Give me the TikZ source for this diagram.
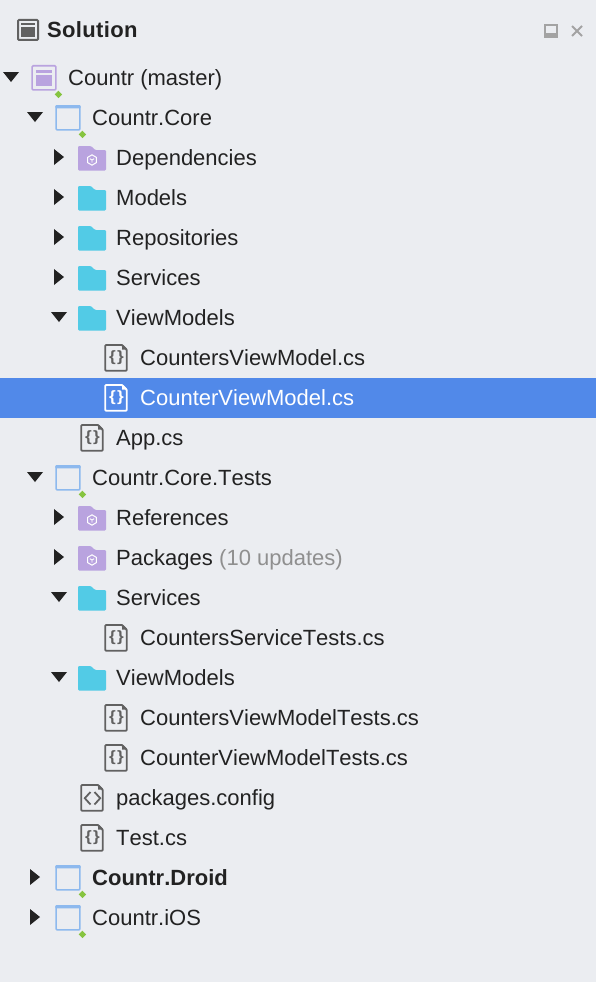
\documentclass[tikz,border=0pt]{standalone}
\usepackage{fontspec}
\setmainfont[Kerning=Off]{Liberation Sans}
\usetikzlibrary{shapes.geometric}
\definecolor{padBack}{HTML}{EBEDF1}
\definecolor{padSelect}{HTML}{5189E9}
\definecolor{padInk}{HTML}{222222}
\definecolor{padGray}{HTML}{8F8F8F}
\definecolor{padCtrl}{HTML}{A3A3A3}
\definecolor{padPurple}{HTML}{B9A3DF}
\definecolor{padCyan}{HTML}{52CBE6}
\definecolor{padBlue}{HTML}{8DB9EE}
\definecolor{padGreen}{HTML}{86C440}
\colorlet{fileInk}{black!62}

\tikzset{
  downtip/.pic={\fill[padInk] (-8,-5) -- (8,-5) -- (0,5) -- cycle;},
  righttip/.pic={\fill[padInk] (-5,-8) -- (5,0) -- (-5,8) -- cycle;},
  notip/.pic={},
  badge/.pic={\fill[padGreen] (0,-3.7) -- (3.7,0) -- (0,3.7) -- (-3.7,0) -- cycle;},
  slnbox/.pic={
    \draw[padPurple,line width=1.6pt,rounded corners=1pt] (-11.9,-11.2) rectangle (11.9,12.9);
    \fill[padPurple] (-8.3,-7) rectangle (8.3,-4.3);
    \fill[padPurple] (-8.3,-2) rectangle (8.3,9);
    \pic at (14.4,17.4) {badge};},
  probox/.pic={
    \draw[padBlue,line width=1.6pt,rounded corners=1pt] (-11.9,-11.2) rectangle (11.9,12.9);
    \fill[padBlue,rounded corners=1pt] (-12.7,-12) rectangle (12.7,-8.7);
    \pic at (14.4,17.4) {badge};},
  plainfolder/.pic={
    \fill[padCyan,rounded corners=1.2pt] (-14,-11) -- (-1,-11) -- (3,-7) -- (14,-7)
      -- (14,13.5) -- (-14,13.5) -- cycle;},
  pkgfolder/.pic={
    \fill[padPurple,rounded corners=1.2pt] (-14,-11) -- (-1,-11) -- (3,-7) -- (14,-7)
      -- (14,13.5) -- (-14,13.5) -- cycle;
    \draw[white,line width=1pt] (0,-2.2) -- (4.4,.4) -- (4.4,5.6) -- (0,8.2) -- (-4.4,5.6) -- (-4.4,.4) -- cycle;
    \draw[white,line width=.9pt] (-2.2,1.7) -- (0,3) -- (2.2,1.7) (0,3) -- (0,5.5);},
  bracefile/.pic={
    \draw[fileInk,line width=1.8pt,rounded corners=1pt] (-10.8,-12.1) -- (6,-12.1) -- (10.8,-7.3)
      -- (10.8,13.8) -- (-10.8,13.8) -- cycle;
    \fill[fileInk] (6,-13) -- (11.7,-7.3) -- (6,-7.3) -- cycle;
    \node[font=\fontsize{15}{15}\selectfont\bfseries,text=fileInk,inner sep=0pt] (brc) at (.5,1) {\scalebox{1.15}[1]{\{\kern1pt\}}};},
  tagfile/.pic={
    \draw[fileInk,line width=1.8pt,rounded corners=1pt] (-10.8,-12.1) -- (6,-12.1) -- (10.8,-7.3)
      -- (10.8,13.8) -- (-10.8,13.8) -- cycle;
    \fill[fileInk] (6,-13) -- (11.7,-7.3) -- (6,-7.3) -- cycle;
    \draw[fileInk,line width=1.8pt] (-1.5,-5) -- (-7.2,1.2) -- (-1.5,7.5) (2.5,-5) -- (8.2,1.2) -- (2.5,7.5);},
  selfile/.pic={\colorlet{fileInk}{white}\pic {bracefile};}
}

\begin{document}
\begin{tikzpicture}[x=1pt,y=-1pt,
    rowtext/.style={anchor=base west,inner sep=0pt,font=\fontsize{22}{26}\selectfont,text=padInk},
    selrow/.style={rowtext,text=white},
    boldrow/.style={rowtext,font=\fontsize{22}{26}\selectfont\bfseries}]
  \useasboundingbox (0,0) rectangle (596,982);
  \fill[padBack] (0,0) rectangle (596,982);
  \fill[padSelect] (0,378) rectangle (596,418);

  % header
  \draw[black!62,line width=2pt,rounded corners=1pt] (18,20) rectangle (38,40);
  \fill[black!62] (21,23) rectangle (35,25);
  \fill[black!62] (21,27.5) rectangle (35,37);
  \node[anchor=base west,inner sep=0pt,font=\fontsize{22}{26}\selectfont\bfseries\addfontfeature{LetterSpace=1.5},text=padInk] (title) at (47,37.5) {Solution};
  \draw[padCtrl,line width=1.6pt] (545,25) rectangle (557,37);
  \fill[padCtrl] (545,33) rectangle (557,37);
  \draw[padCtrl,line width=1.8pt] (572,26) -- (582,36) (572,36) -- (582,26);

  % tree rows
  \foreach \lvl/\tip/\icon/\sty/\txt [count=\i from 0] in {
      0/downtip/slnbox/rowtext/Countr (master),
      1/downtip/probox/rowtext/Countr.Core,
      2/righttip/pkgfolder/rowtext/Dependencies,
      2/righttip/plainfolder/rowtext/Models,
      2/righttip/plainfolder/rowtext/Repositories,
      2/righttip/plainfolder/rowtext/Services,
      2/downtip/plainfolder/rowtext/ViewModels,
      3/notip/bracefile/rowtext/CountersViewModel.cs,
      3/notip/selfile/selrow/CounterViewModel.cs,
      2/notip/bracefile/rowtext/App.cs,
      1/downtip/probox/rowtext/Countr.Core.Tests,
      2/righttip/pkgfolder/rowtext/References,
      2/righttip/pkgfolder/rowtext/Packages,
      2/downtip/plainfolder/rowtext/Services,
      3/notip/bracefile/rowtext/CountersServiceTests.cs,
      2/downtip/plainfolder/rowtext/ViewModels,
      3/notip/bracefile/rowtext/CountersViewModelTests.cs,
      3/notip/bracefile/rowtext/CounterViewModelTests.cs,
      2/notip/tagfile/rowtext/packages.config,
      2/notip/bracefile/rowtext/Test.cs,
      1/righttip/probox/boldrow/Countr.Droid,
      1/righttip/probox/rowtext/Countr.iOS} {
    \pgfmathsetmacro{\rowy}{77+40*\i}
    \pic at ({11+24*\lvl},\rowy) {\tip};
    \pic at ({44+24*\lvl},\rowy) {\icon};
    \node[\sty] (row\i) at ({68+24*\lvl},\rowy+8) {\txt};
  }
  \node[rowtext,text=padGray,anchor=base west] (updates) at ([xshift=6pt]row12.base east) {(10 updates)};
\end{tikzpicture}
\end{document}
